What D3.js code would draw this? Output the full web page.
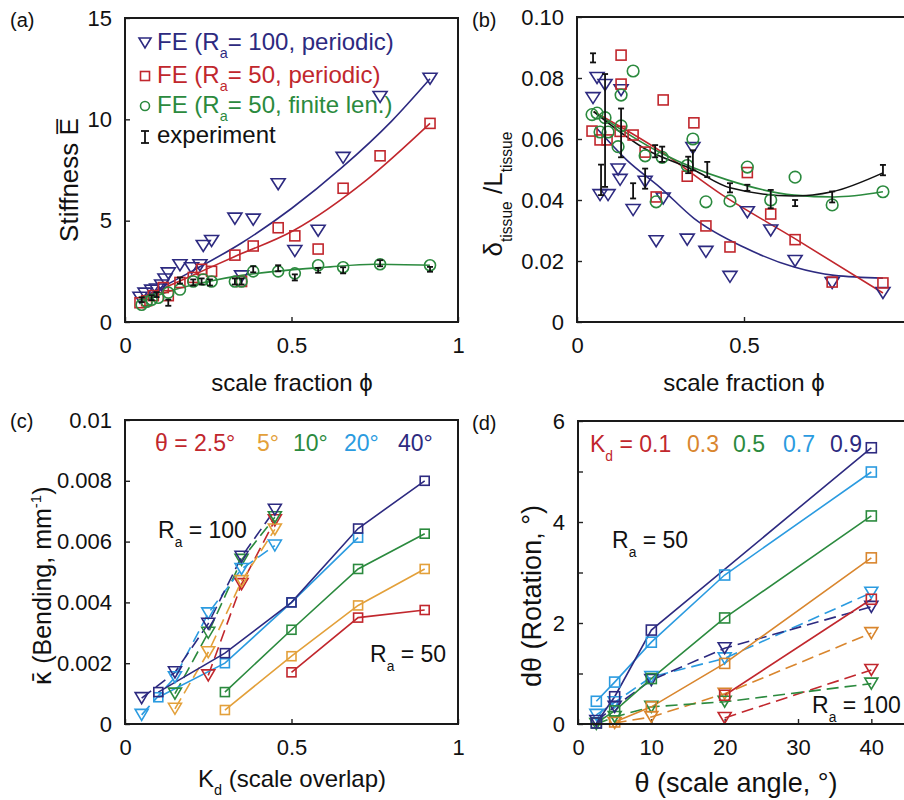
<!DOCTYPE html>
<html>
<head>
<meta charset="utf-8">
<script src="https://cdn.jsdelivr.net/npm/d3@7"></script>
<style>
  body { margin: 0; background: #fff; }
  text { font-family: "Liberation Sans", Arial, Helvetica, sans-serif; }
</style>
</head>
<body>
<script>
// ---------- colours ----------
const NAVY = "#2d2a80", RED = "#c1272d", GREEN = "#2b8a3e", LBLUE = "#2b9be0",
      ORANGE_C = "#e3a03a", ORANGE_D = "#d9862e", BLACK = "#111";

// ---------- (a) stiffness vs scale fraction ----------
const aTicksX = [0, 0.5, 1];
const aTicksY = [0, 5, 10, 15];
const aTri = [[0.045,1.2],[0.06,1.4],[0.08,1.55],[0.095,1.6],[0.11,1.8],[0.12,2.1],[0.13,2.4],[0.165,2.8],[0.2,2.65],[0.225,2.8],[0.235,3.75],[0.26,4.0],[0.33,5.1],[0.35,2.25],[0.385,5.05],[0.46,6.8],[0.51,3.5],[0.58,4.5],[0.655,8.1],[0.766,11.1],[0.916,12.0]];
const aSq = [[0.045,0.95],[0.065,1.05],[0.085,1.3],[0.115,1.7],[0.13,1.3],[0.165,1.95],[0.205,2.2],[0.23,2.6],[0.26,2.5],[0.33,3.3],[0.35,2.0],[0.385,3.75],[0.46,4.65],[0.51,4.25],[0.58,3.6],[0.655,6.6],[0.766,8.2],[0.916,9.8]];
const aCirc = [[0.05,0.85],[0.065,1.0],[0.08,1.1],[0.1,1.2],[0.13,1.45],[0.165,1.6],[0.205,2.0],[0.235,2.1],[0.26,2.0],[0.33,2.0],[0.35,2.0],[0.385,2.5],[0.46,2.5],[0.51,2.4],[0.58,2.8],[0.655,2.7],[0.766,2.85],[0.916,2.8]];
// experiment: [phi, mean, error]
const aExp = [[0.05,1.1,0.12],[0.08,1.2,0.12],[0.095,1.35,0.12],[0.13,0.95,0.15],[0.165,2.05,0.15],[0.205,1.95,0.15],[0.23,2.0,0.15],[0.255,1.95,0.15],[0.33,2.0,0.15],[0.35,2.0,0.15],[0.385,2.6,0.15],[0.46,2.65,0.15],[0.51,2.2,0.15],[0.58,2.55,0.12],[0.655,2.55,0.15],[0.766,2.9,0.15],[0.916,2.6,0.12]];
const aFitTri = [[0.05,1.2],[0.2,2.5],[0.35,3.9],[0.5,5.6],[0.65,7.6],[0.8,9.9],[0.916,12.0]];
const aFitSq = [[0.05,1.2],[0.175,2.1],[0.325,3.2],[0.505,4.5],[0.725,7.0],[0.916,9.8]];
const aFitCirc = [[0.05,1.0],[0.15,1.6],[0.25,2.0],[0.35,2.3],[0.45,2.5],[0.6,2.7],[0.75,2.85],[0.916,2.8]];

// ---------- (b) normalised deflection vs scale fraction ----------
const bTicksY = [0, 0.02, 0.04, 0.06, 0.08, 0.10];
const bTickLabelsY = ["0", "0.02", "0.04", "0.06", "0.08", "0.10"];
const bTri = [[0.048,0.0734],[0.06,0.080],[0.069,0.0416],[0.084,0.0777],[0.093,0.0416],[0.123,0.050],[0.129,0.0466],[0.132,0.076],[0.168,0.0367],[0.204,0.046],[0.237,0.0265],[0.258,0.0405],[0.33,0.027],[0.347,0.057],[0.386,0.023],[0.458,0.0148],[0.51,0.036],[0.58,0.030],[0.653,0.020],[0.764,0.0128],[0.916,0.0095]];
const bSq = [[0.045,0.0626],[0.069,0.0597],[0.09,0.0597],[0.129,0.0625],[0.132,0.0875],[0.132,0.078],[0.168,0.0613],[0.204,0.0557],[0.237,0.041],[0.258,0.0728],[0.33,0.0478],[0.35,0.0653],[0.386,0.0315],[0.458,0.0246],[0.51,0.049],[0.58,0.0354],[0.653,0.027],[0.764,0.0131],[0.916,0.0128]];
const bCirc = [[0.045,0.068],[0.06,0.0685],[0.069,0.0623],[0.084,0.067],[0.093,0.0623],[0.123,0.0575],[0.132,0.0643],[0.132,0.0744],[0.168,0.0823],[0.204,0.0545],[0.237,0.0394],[0.255,0.054],[0.33,0.0513],[0.347,0.060],[0.386,0.0394],[0.458,0.0397],[0.51,0.0508],[0.58,0.040],[0.653,0.0475],[0.764,0.0384],[0.916,0.0427]];
const bExp = [[0.048,0.0866,0.0015],[0.072,0.0466,0.005],[0.084,0.0628,0.0185],[0.132,0.062,0.008],[0.168,0.043,0.0025],[0.204,0.047,0.0033],[0.234,0.056,0.002],[0.255,0.055,0.0025],[0.333,0.0515,0.0027],[0.347,0.053,0.0033],[0.39,0.050,0.0025],[0.458,0.044,0.0015],[0.51,0.044,0.001],[0.58,0.0403,0.003],[0.653,0.039,0.001],[0.764,0.041,0.0018],[0.916,0.0498,0.0017]];
const bFitTri = [[0.055,0.064],[0.15,0.053],[0.25,0.044],[0.35,0.034],[0.5,0.0245],[0.65,0.018],[0.77,0.0153],[0.916,0.0144]];
const bFitSq = [[0.05,0.069],[0.25,0.056],[0.43,0.042],[0.65,0.0275],[0.916,0.0095]];
const bFitCirc = [[0.05,0.069],[0.25,0.0555],[0.45,0.0466],[0.65,0.0416],[0.77,0.041],[0.916,0.0427]];
const bFitExp = [[0.05,0.069],[0.21,0.0564],[0.347,0.050],[0.458,0.044],[0.647,0.0413],[0.764,0.0427],[0.916,0.0489]];

// ---------- (c) bending vs scale overlap, one series per scale angle ----------
const cAngles = ["2.5°", "5°", "10°", "20°", "40°"];
const cTicksY = [0, 0.002, 0.004, 0.006, 0.008, 0.01];
const cTickLabelsY = ["0", "0.002", "0.004", "0.006", "0.008", "0.01"];
// R_a = 50 (squares, solid)
const cSq50 = [
  [[0.5,0.0017],[0.7,0.0035],[0.9,0.00375]],
  [[0.3,0.00046],[0.5,0.00223],[0.7,0.0039],[0.9,0.0051]],
  [[0.3,0.00105],[0.5,0.0031],[0.7,0.0051],[0.9,0.00626]],
  [[0.1,0.00088],[0.3,0.002],[0.5,0.0040],[0.7,0.00613]],
  [[0.1,0.00105],[0.3,0.00233],[0.5,0.0040],[0.7,0.00643],[0.9,0.0080]]
];
// R_a = 100 (triangles, dashed)
const cTri100 = [
  [[0.25,0.0016],[0.35,0.0046],[0.45,0.0067]],
  [[0.15,0.0005],[0.25,0.00236],[0.35,0.0047],[0.45,0.0064]],
  [[0.15,0.001],[0.25,0.003],[0.35,0.0054],[0.45,0.0068]],
  [[0.05,0.0003],[0.15,0.00154],[0.25,0.00364],[0.35,0.0051],[0.45,0.00587]],
  [[0.05,0.00085],[0.15,0.0017],[0.25,0.0033],[0.35,0.0055],[0.45,0.00705]]
];

// ---------- (d) rotation vs scale angle, one series per overlap ----------
const dOverlaps = ["0.1", "0.3", "0.5", "0.7", "0.9"];
const dTicksX = [0, 10, 20, 30, 40];
const dTicksY = [0, 1, 2, 3, 4, 5, 6];
const dSq50 = [
  [[20,0.57],[40,2.47]],
  [[5,0.04],[10,0.34],[20,1.2],[40,3.29]],
  [[2.5,0.02],[5,0.26],[10,0.9],[20,2.1],[40,4.12]],
  [[2.5,0.45],[5,0.83],[10,1.62],[20,2.95],[40,4.99]],
  [[2.5,0.02],[5,0.54],[10,1.86],[40,5.47]]
];
const dTri100 = [
  [[20,0.12],[40,1.07]],
  [[5,0.02],[10,0.14],[20,0.6],[40,1.8]],
  [[2.5,0.0],[5,0.14],[10,0.34],[20,0.44],[40,0.8]],
  [[2.5,0.18],[5,0.43],[10,0.93],[20,1.3],[40,2.6]],
  [[2.5,0.06],[5,0.34],[10,0.87],[20,1.5],[40,2.32]]
];

const cColors = [RED, ORANGE_C, GREEN, LBLUE, NAVY];
const dColors = [RED, ORANGE_D, GREEN, LBLUE, NAVY];

// ---------- drawing helpers ----------
const svg = d3.select("body").append("svg").attr("width", 904).attr("height", 800);
const TICK_FS = 22, NOTE_FS = 23;

function makePanel(c) {
  const x = d3.scaleLinear().domain(c.xd).range([c.left, c.right]);
  const y = d3.scaleLinear().domain(c.yd).range([c.bottom, c.top]);
  const g = svg.append("g");
  const xa = d3.axisBottom(x).tickValues(c.xt).tickFormat(c.xf || (d => d))
    .tickSizeInner(-5).tickSizeOuter(0).tickPadding(15);
  const ya = d3.axisLeft(y).tickValues(c.yt).tickFormat(c.yf || (d => d))
    .tickSizeInner(-5).tickSizeOuter(0).tickPadding(13);
  for (const [ax, tr] of [[xa, `translate(0,${c.bottom})`], [ya, `translate(${c.left},0)`]]) {
    const s = g.append("g").attr("transform", tr).call(ax);
    s.select(".domain").remove();
    s.selectAll("line").attr("stroke", "#222").attr("stroke-width", 1.4);
    s.selectAll("text").attr("font-size", TICK_FS).attr("fill", "#111")
      .style("font-family", '"Liberation Sans", Arial, sans-serif');
  }
  const content = g.append("g");
  g.append("rect").attr("x", c.left).attr("y", c.top)
    .attr("width", c.right - c.left).attr("height", c.bottom - c.top)
    .attr("fill", "none").attr("stroke", "#1a1a1a").attr("stroke-width", 2);
  return { x, y, g: content, outer: g };
}

function line(p, data, color, opts = {}) {
  const gen = d3.line().x(d => p.x(d[0])).y(d => p.y(d[1]))
    .curve(opts.curve || d3.curveLinear);
  p.g.append("path").datum(data).attr("d", gen).attr("fill", "none")
    .attr("stroke", color).attr("stroke-width", opts.w || 1.6)
    .attr("stroke-dasharray", opts.dash || null);
}

const triPath = (w, h) => `M${-w/2},${-h/2}L${w/2},${-h/2}L0,${h/2}Z`;
function tris(p, data, color, w = 13, h = 11) {
  p.g.selectAll(null).data(data).join("path")
    .attr("d", triPath(w, h))
    .attr("transform", d => `translate(${p.x(d[0])},${p.y(d[1])})`)
    .attr("fill", "none").attr("stroke", color).attr("stroke-width", 1.6);
}
function squares(p, data, color, s = 10) {
  p.g.selectAll(null).data(data).join("rect")
    .attr("x", d => p.x(d[0]) - s/2).attr("y", d => p.y(d[1]) - s/2)
    .attr("width", s).attr("height", s)
    .attr("fill", "none").attr("stroke", color).attr("stroke-width", 1.6);
}
function circles(p, data, color, r = 5.5) {
  p.g.selectAll(null).data(data).join("circle")
    .attr("cx", d => p.x(d[0])).attr("cy", d => p.y(d[1])).attr("r", r)
    .attr("fill", "none").attr("stroke", color).attr("stroke-width", 1.6);
}
function errBars(p, data, cap = 6) {
  const g = p.g.append("g").attr("stroke", BLACK).attr("stroke-width", 1.8);
  data.forEach(([xv, m, e]) => {
    const X = p.x(xv), y1 = p.y(m - e), y2 = p.y(m + e);
    g.append("line").attr("x1", X).attr("x2", X).attr("y1", y1).attr("y2", y2);
    g.append("line").attr("x1", X - cap/2).attr("x2", X + cap/2).attr("y1", y1).attr("y2", y1);
    g.append("line").attr("x1", X - cap/2).attr("x2", X + cap/2).attr("y1", y2).attr("y2", y2);
  });
}

// text with sub/superscript parts: each part is a string or [text, "sub"|"sup"|null, colour, family]
function rich(parent, x, y, parts, fs, opts = {}) {
  const t = parent.append("text").attr("x", x).attr("y", y).attr("font-size", fs)
    .attr("fill", opts.fill || "#111");
  if (opts.anchor) t.attr("text-anchor", opts.anchor);
  if (opts.transform) t.attr("transform", opts.transform);
  const subShift = opts.sub || 0.4;
  let shift = 0;
  parts.forEach(p => {
    const [str, kind, col, fam] = typeof p === "string" ? [p, null, null, null] : p;
    const target = kind === "sub" ? fs * subShift : kind === "sup" ? -fs * 0.4 : 0;
    const ts = t.append("tspan").text(str);
    if (target - shift !== 0) ts.attr("dy", target - shift);
    shift = target;
    if (kind) ts.attr("font-size", fs * 0.6);
    if (col) ts.attr("fill", col);
    if (fam) ts.style("font-family", fam);
  });
  return t;
}

// ---------- panel (a) ----------
const pa = makePanel({ left: 125, right: 458, top: 18, bottom: 322, xd: [0, 1], yd: [0, 15],
  xt: aTicksX, yt: aTicksY });
line(pa, aFitTri, NAVY, { curve: d3.curveMonotoneX });
line(pa, aFitSq, RED, { curve: d3.curveMonotoneX });
line(pa, aFitCirc, GREEN, { curve: d3.curveMonotoneX });
tris(pa, aTri, NAVY, 14, 11);
squares(pa, aSq, RED, 10);
circles(pa, aCirc, GREEN, 5.5);
errBars(pa, aExp, 6);

// legend (a)
const legA = svg.append("g");
const legRows = [
  { y: 43, base: 50, kind: "tri", color: NAVY, parts: ["FE (R", ["a", "sub"], "= 100, periodic)"] },
  { y: 76, base: 83, kind: "sq", color: RED, parts: ["FE (R", ["a", "sub"], "= 50, periodic)"] },
  { y: 106, base: 113, kind: "circ", color: GREEN, parts: ["FE (R", ["a", "sub"], "= 50, finite len.)"] },
  { y: 137, base: 143, kind: "exp", color: BLACK, parts: ["experiment"] }
];
legRows.forEach(r => {
  const mx = 145;
  if (r.kind === "tri") legA.append("path").attr("d", triPath(12, 10)).attr("transform", `translate(${mx},${r.y})`)
    .attr("fill", "none").attr("stroke", r.color).attr("stroke-width", 1.6);
  if (r.kind === "sq") legA.append("rect").attr("x", mx - 4.5).attr("y", r.y - 4.5).attr("width", 9).attr("height", 9)
    .attr("fill", "none").attr("stroke", r.color).attr("stroke-width", 1.6);
  if (r.kind === "circ") legA.append("circle").attr("cx", mx).attr("cy", r.y).attr("r", 4.5)
    .attr("fill", "none").attr("stroke", r.color).attr("stroke-width", 1.6);
  if (r.kind === "exp") {
    const gg = legA.append("g").attr("stroke", r.color).attr("stroke-width", 1.8);
    gg.append("line").attr("x1", mx).attr("x2", mx).attr("y1", r.y - 6).attr("y2", r.y + 6);
    gg.append("line").attr("x1", mx - 4).attr("x2", mx + 4).attr("y1", r.y - 6).attr("y2", r.y - 6);
    gg.append("line").attr("x1", mx - 4).attr("x2", mx + 4).attr("y1", r.y + 6).attr("y2", r.y + 6);
  }
  rich(legA, 157, r.base, r.parts, 24, { fill: r.color, sub: 0.34 });
});

// ---------- panel (b) ----------
const pb = makePanel({ left: 577, right: 911, top: 17, bottom: 322, xd: [0, 1], yd: [0, 0.1],
  xt: aTicksX, xf: d => (d === 1 ? "" : d), yt: bTicksY, yf: (d, i) => bTickLabelsY[i] });
line(pb, bFitTri, NAVY, { curve: d3.curveMonotoneX });
line(pb, bFitSq, RED, { curve: d3.curveMonotoneX });
line(pb, bFitCirc, GREEN, { curve: d3.curveMonotoneX });
line(pb, bFitExp, BLACK, { curve: d3.curveMonotoneX });
tris(pb, bTri, NAVY, 14, 11);
squares(pb, bSq, RED, 10);
circles(pb, bCirc, GREEN, 5.8);
errBars(pb, bExp, 6);

// ---------- panel (c) ----------
const pc = makePanel({ left: 125, right: 458, top: 420, bottom: 724, xd: [0, 1], yd: [0, 0.01],
  xt: aTicksX, yt: cTicksY, yf: (d, i) => cTickLabelsY[i] });
cTri100.forEach((s, i) => line(pc, s, cColors[i], { dash: "12,6" }));
cSq50.forEach((s, i) => line(pc, s, cColors[i]));
cTri100.forEach((s, i) => tris(pc, s, cColors[i], 13, 11));
cSq50.forEach((s, i) => squares(pc, s, cColors[i], 9));

// legend (c)
rich(svg, 155, 451, [["θ = 2.5°", null, RED]], NOTE_FS);
[[257, 1], [293, 2], [344, 3], [398, 4]].forEach(([xx, i]) =>
  rich(svg, xx, 451, [[cAngles[i], null, cColors[i]]], NOTE_FS));
rich(svg, 158, 538, ["R", ["a", "sub"], " = 100"], NOTE_FS);
rich(svg, 370, 662, ["R", ["a", "sub"], " = 50"], NOTE_FS);

// ---------- panel (d) ----------
const pd = makePanel({ left: 578, right: 908, top: 421, bottom: 724, xd: [0, 45], yd: [0, 6],
  xt: dTicksX, yt: dTicksY, yf: d => (d % 2 === 0 ? d : "") });
dTri100.forEach((s, i) => line(pd, s, dColors[i], { dash: "12,6" }));
dSq50.forEach((s, i) => line(pd, s, dColors[i]));
dTri100.forEach((s, i) => tris(pd, s, dColors[i], 13, 11));
dSq50.forEach((s, i) => squares(pd, s, dColors[i], 10));

// legend (d)
rich(svg, 590, 452, [["K", null, RED], ["d", "sub", RED], [" = 0.1", null, RED]], NOTE_FS);
[[687, 1], [733, 2], [783, 3], [830, 4]].forEach(([xx, i]) =>
  rich(svg, xx, 452, [[dOverlaps[i], null, dColors[i]]], NOTE_FS));
rich(svg, 612, 548, ["R", ["a", "sub"], " = 50"], NOTE_FS);
rich(svg, 812, 713, ["R", ["a", "sub"], " = 100"], NOTE_FS);

// ---------- axis titles and panel letters ----------
const titles = svg.append("g");
rich(titles, 292, 391, ["scale fraction ϕ"], 24, { anchor: "middle" });
rich(titles, 744, 391, ["scale fraction ϕ"], 24, { anchor: "middle" });
rich(titles, 292, 787, ["K", ["d", "sub"], " (scale overlap)"], 24, { anchor: "middle", sub: 0.34 });
rich(titles, 736, 792, ["θ (scale angle, °)"], 27, { anchor: "middle" });
rich(titles, 0, 0, ["Stiffness E\u0305"], 26, { anchor: "middle", transform: "translate(78,180) rotate(-90)" });
rich(titles, 0, 0, ["δ", ["tissue", "sub"], " /L", ["tissue", "sub"]], 26, { anchor: "middle", transform: "translate(502,194) rotate(-90)" });
rich(titles, 0, 0, [["κ\u0304", null, null, '"DejaVu Sans", sans-serif'], " (Bending,  mm", ["-1", "sup"], ")"], 25,
  { anchor: "middle", transform: "translate(51,586) rotate(-90)" });
rich(titles, 0, 0, ["dθ (Rotation, °)"], 27, { anchor: "middle", transform: "translate(541,596) rotate(-90)" });

[["(a)", 10, 27], ["(b)", 472, 27], ["(c)", 10, 428], ["(d)", 472, 430]].forEach(([s, x, y]) =>
  titles.append("text").attr("x", x).attr("y", y).attr("font-size", 20).attr("fill", "#111").text(s));
</script>
</body>
</html>
